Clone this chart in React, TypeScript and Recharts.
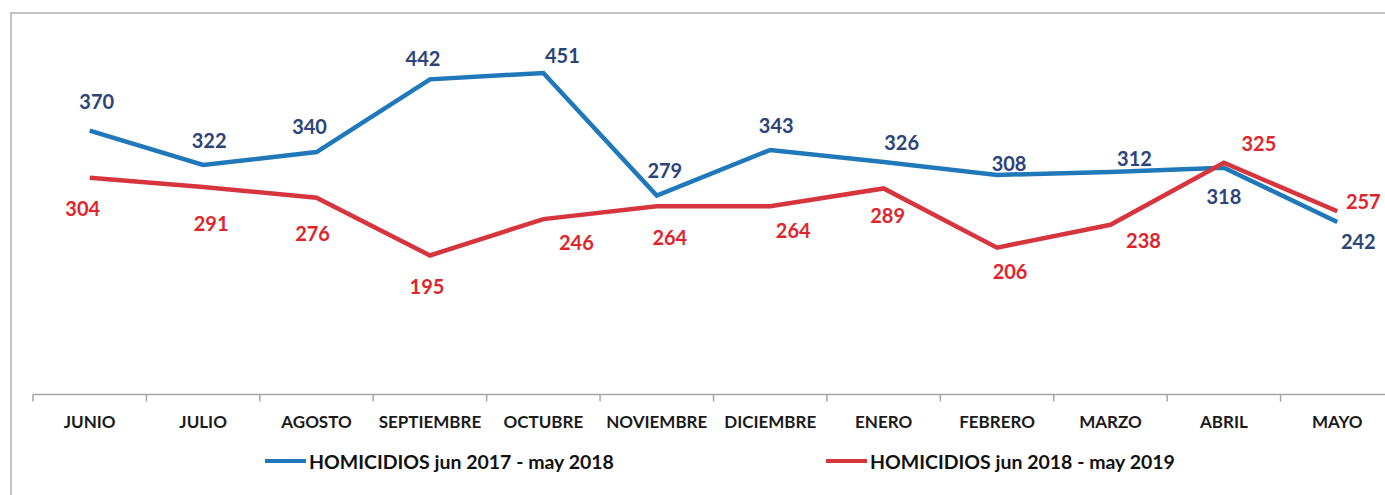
import { LineChart, Line, XAxis, YAxis, Legend, LabelList } from "recharts";

const months = [
  "JUNIO",
  "JULIO",
  "AGOSTO",
  "SEPTIEMBRE",
  "OCTUBRE",
  "NOVIEMBRE",
  "DICIEMBRE",
  "ENERO",
  "FEBRERO",
  "MARZO",
  "ABRIL",
  "MAYO",
];
const prev = [370, 322, 340, 442, 451, 279, 343, 326, 308, 312, 318, 242];
const curr = [304, 291, 276, 195, 246, 264, 264, 289, 206, 238, 325, 257];

const PREV_NAME = "HOMICIDIOS jun 2017 - may 2018";
const CURR_NAME = "HOMICIDIOS jun 2018 - may 2019";

// label nudges (dx, dy) from each point, as placed in the original
const prevNudge = [
  [7, -30], [6, -25], [-7, -26], [-7, -21], [19, -18], [8, -26],
  [6, -25], [18, -20], [12, -12], [24, -14], [0, 28], [21, 19],
];
const currNudge = [
  [-7, 30], [8, 36], [-4, 35], [-3, 31], [33, 23], [13, 31],
  [23, 24], [4, 27], [13, 23], [33, 15], [35, -20], [26, -10],
];

const W = 1420;
const H = 495;
const M = { top: 38, left: 33, right: 26, bottom: 60.5 };
const BAND = (W - M.left - M.right) / months.length;
const FONT = "Lato, 'Open Sans', sans-serif";

const BLUE = "#1f78b9";
const BLUE_TXT = "#2c4479";
const RED = "#d7353e";
const RED_TXT = "#e0242c";

const data = months.map((m, i) => ({ m, prev: prev[i], curr: curr[i] }));

function dataLabel(nudge: number[][], color: string) {
  return (p: any) => {
    const [dx, dy] = nudge[p.index] ?? [0, 0];
    return (
      <text
        x={p.x + dx}
        y={p.y + dy}
        textAnchor="middle"
        dominantBaseline="central"
        fontFamily={FONT}
        fontWeight={700}
        fontSize={20}
        fill={color}
      >
        {p.value}
      </text>
    );
  };
}

function MonthTick(p: any) {
  const left = p.x - BAND / 2;
  return (
    <g>
      <line x1={left} x2={left} y1={p.y - 8} y2={p.y - 1} stroke="#a6a6a6" strokeWidth={1.5} />
      <text
        x={p.x}
        y={p.y + 19}
        textAnchor="middle"
        dominantBaseline="central"
        fontFamily={FONT}
        fontWeight={700}
        fontSize={17}
        fill="#1a1a1a"
      >
        {p.payload.value}
      </text>
    </g>
  );
}

function LegendBox() {
  const item = (left: number, color: string, name: string) => (
    <div style={{ position: "absolute", left, top: 0, display: "flex", alignItems: "center", height: 24 }}>
      <span style={{ width: 41, height: 4, background: color, display: "inline-block", marginRight: 3 }} />
      <span style={{ fontFamily: FONT, fontWeight: 700, fontSize: 19.5, color: "#111", whiteSpace: "nowrap" }}>
        {name}
      </span>
    </div>
  );
  return (
    <div style={{ position: "relative", width: W, height: 24 }}>
      {item(265, BLUE, PREV_NAME)}
      {item(826, RED, CURR_NAME)}
    </div>
  );
}

export default function App() {
  return (
    <div style={{ position: "fixed", left: 0, top: 0, width: 1385, height: 495, overflow: "hidden", background: "#fff" }}>
      <div style={{ position: "absolute", left: 0, top: 0 }}>
        <LineChart width={W} height={H} data={data} margin={M}>
          <XAxis
            dataKey="m"
            interval={0}
            height={40}
            padding={{ left: BAND / 2, right: BAND / 2 }}
            tick={<MonthTick />}
            tickLine={false}
            axisLine={{ stroke: "#a6a6a6", strokeWidth: 1.5 }}
          />
          <YAxis hide domain={[0, 500]} />
          <Legend
            layout="horizontal"
            verticalAlign="middle"
            align="center"
            content={() => <LegendBox />}
            wrapperStyle={{ top: 449, left: 0, width: W, height: 24 }}
          />
          <Line
            dataKey="prev"
            name={PREV_NAME}
            stroke={BLUE}
            strokeWidth={4.5}
            dot={false}
            isAnimationActive={false}
          >
            <LabelList dataKey="prev" content={dataLabel(prevNudge, BLUE_TXT)} />
          </Line>
          <Line
            dataKey="curr"
            name={CURR_NAME}
            stroke={RED}
            strokeWidth={4.5}
            dot={false}
            isAnimationActive={false}
          >
            <LabelList dataKey="curr" content={dataLabel(currNudge, RED_TXT)} />
          </Line>
        </LineChart>
      </div>
      <div
        style={{
          position: "absolute",
          left: 10,
          top: 12,
          width: W + 40,
          height: H + 40,
          borderLeft: "2px solid #c4c4c4",
          borderTop: "2px solid #c4c4c4",
          pointerEvents: "none",
        }}
      />
    </div>
  );
}
